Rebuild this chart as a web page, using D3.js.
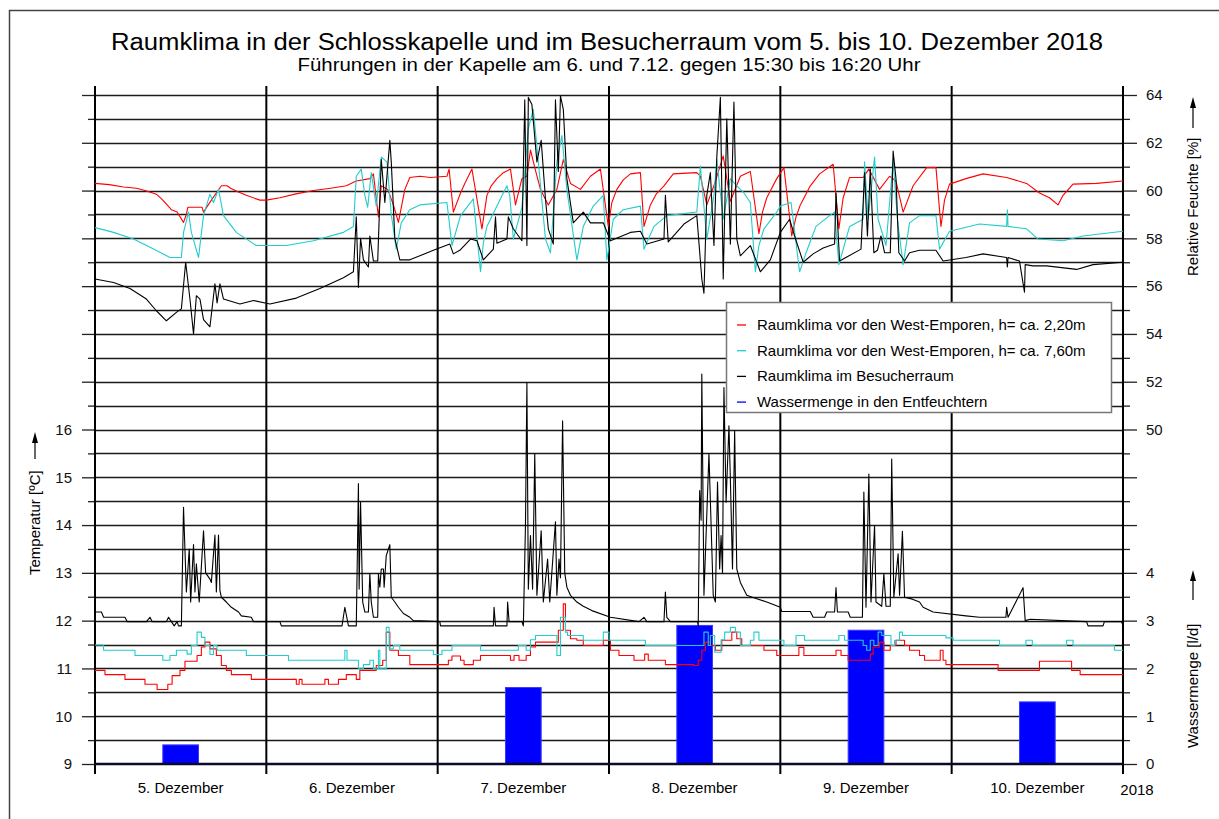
<!DOCTYPE html>
<html>
<head>
<meta charset="utf-8">
<script src="https://cdn.jsdelivr.net/npm/d3@7"></script>
<style>
  body { margin: 0; background: #fff; }
  svg { display: block; font-family: "Liberation Sans", Arial, sans-serif; }
</style>
</head>
<body>
<div id="chart"></div>
<script>
// Day labels and water amount (l/d) per day
const dayLabels = ['5. Dezember', '6. Dezember', '7. Dezember', '8. Dezember', '9. Dezember', '10. Dezember'];
const waterValues = [0.4, 0, 1.6, 2.9, 2.8, 1.3];

// Series: [hours since 5.12. 00:00, value]
// Relative humidity (%) - West-Emporen 2,20m
const rhRed = [[0,60.3],[2,60.25],[4,60.15],[5.8,60.1],[7,60.0],[8.6,59.85],[9.5,59.6],[10.7,59.2],[11.5,59.1],[12.4,58.67],[12.8,59.0],[13,59.3],[15,59.3],[15.2,59.1],[16.3,59.6],[17.7,60.2],[18.5,60.2],[19,60.1],[20,59.95],[21.2,59.8],[23.1,59.6],[24,59.6],[25.9,59.7],[28,59.85],[30.6,60.0],[33,60.1],[35.2,60.2],[36.6,60.4],[38.5,60.5],[39,60.7],[39.7,58.9],[40.1,60.2],[41,60.05],[41.8,59.4],[42.5,58.67],[43.4,60.05],[44.1,60.55],[45.5,60.6],[47,60.55],[49.3,60.6],[49.6,60.9],[50.2,59.1],[51.2,59.9],[51.8,60.3],[52.3,60.6],[52.8,60.9],[54.2,58.4],[54.9,59.8],[55.5,60.2],[56.3,60.5],[57.2,60.75],[58.2,60.9],[58.9,59.4],[59.8,60.5],[60.5,60.6],[61,61.7],[61.6,60.96],[62.4,60.05],[63.5,59.4],[64.7,60.05],[65.6,61.3],[66.6,60.3],[68,60.05],[69.4,60.6],[70.8,60.9],[71.9,58.5],[72.4,59.5],[73.1,60.05],[74,60.45],[75,60.7],[76.4,60.75],[76.9,58.5],[77.8,59.4],[78.6,59.85],[79.7,60.2],[81,60.7],[84.3,60.75],[84.8,60.6],[85.7,59.4],[86.7,60.2],[88,61.45],[89,59.55],[90.4,60.6],[91.8,60.8],[93,58.2],[93.5,59.1],[94.1,59.7],[95.5,60.5],[96.5,60.96],[97.6,58.1],[98.2,58.9],[98.8,59.4],[100.2,60.2],[101.5,60.7],[103.4,61.1],[104.2,58.4],[104.8,59.7],[105.7,60.55],[107.6,60.55],[108.4,60.9],[109.9,60.05],[111.3,60.6],[112.2,60.4],[113.2,59.1],[114.6,60.2],[116.5,60.96],[117.8,60.96],[118.5,58.5],[119,59.6],[119.7,60.27],[122,60.5],[124.4,60.7],[127.7,60.55],[130.5,60.3],[132.3,59.9],[133.7,59.7],[134.9,59.4],[135.6,59.8],[137,60.27],[140.3,60.3],[144,60.4]];

// Relative humidity (%) - West-Emporen 7,60m
const rhCyan = [[0,58.45],[2.6,58.25],[5.4,57.97],[8.2,57.55],[10.5,57.2],[12.1,57.2],[12.4,58.25],[13.1,59.1],[13.5,58.25],[14.5,57.2],[15.2,58.95],[16.1,59.85],[16.6,59.5],[17.3,60.05],[18,58.95],[19.8,58.25],[22.6,57.7],[26.8,57.7],[30.6,57.9],[34.8,58.25],[36.2,58.5],[36.6,60.6],[37.3,60.9],[37.8,59.8],[38.2,59.3],[38.7,60.75],[39.4,59.35],[40.1,61.4],[40.9,61.2],[41.5,59.0],[42.2,57.55],[42.9,58.65],[44.1,59.2],[45.5,59.4],[49.3,59.5],[50.0,57.7],[51.2,58.95],[53,59.65],[54,56.6],[54.4,57.8],[54.9,58.5],[56.3,59.35],[57.7,60.2],[58.1,59.8],[58.6,57.97],[59.8,59.3],[60.7,62.6],[61.4,63.4],[62.1,61.2],[63.1,57.97],[63.8,57.4],[64.7,61.2],[65.4,62.3],[66.1,60.05],[67.5,57.1],[68.4,58.5],[69.8,59.35],[71.2,59.8],[71.7,57.1],[72.6,58.8],[74,59.2],[76.4,59.35],[76.9,57.55],[78.3,58.5],[80.1,58.95],[84.3,59.1],[84.8,61.03],[85.7,57.97],[86.7,59.8],[87.1,61.3],[88,58.8],[89,60.5],[89.9,60.2],[90.9,59.9],[91.8,59.5],[92.5,56.6],[93,57.7],[93.7,58.4],[95.5,59.1],[96,59.35],[97.5,59.5],[98.7,56.6],[99.6,57.4],[101,58.5],[102.9,58.95],[103.6,59.1],[104.2,56.9],[105.7,58.5],[107.6,58.8],[107.8,61.2],[108.3,58.8],[109.2,61.4],[109.7,58.8],[110.8,57.7],[111.8,61.25],[112.4,58.8],[113.2,56.9],[114.1,58.65],[115.5,58.95],[117.8,58.95],[118.3,57.55],[119.7,58.3],[123.9,58.6],[127.7,58.5],[127.8,59.2],[127.9,58.5],[130.5,58.4],[132.1,57.97],[135.6,57.9],[138.4,58.1],[144,58.3]];

// Relative humidity (%) - Besucherraum
const rhBlack = [[0,56.3],[2.6,56.15],[4.9,55.9],[7.2,55.46],[8.6,54.97],[10,54.55],[11.4,54.9],[12.1,55.05],[12.7,57.0],[13.3,55.46],[13.8,54.0],[14.2,55.6],[14.7,55.46],[15.2,54.6],[16.1,54.3],[16.8,56.1],[17.1,55.3],[17.5,56.1],[18,55.46],[20.3,55.25],[22.2,55.4],[24.5,55.25],[28.2,55.5],[31.5,55.9],[34.8,56.35],[36.2,56.6],[36.6,58.9],[36.9,55.95],[37.2,58.0],[37.6,57.1],[38.3,56.8],[38.5,58.1],[39,57.05],[39.6,57.05],[40.1,61.3],[40.6,59.5],[41.3,62.1],[41.5,61.2],[42,58.0],[42.7,57.1],[44.1,57.1],[47.4,57.5],[49.7,57.76],[50.2,57.35],[51.1,57.5],[52.6,57.97],[53.5,57.9],[54.4,57.1],[55.8,57.55],[56.1,58.9],[56.3,57.8],[57.7,57.97],[57.9,58.9],[58.6,58.4],[59.8,57.9],[60.2,63.8],[60.5,57.7],[60.7,63.9],[61.2,63.6],[61.9,61.2],[62.5,62.1],[63.1,59.65],[63.5,58.4],[64.2,57.76],[64.5,63.8],[64.9,60.8],[65.2,63.96],[65.6,63.4],[66.1,60.5],[67,58.65],[68.4,59.1],[69.4,58.65],[71.2,58.65],[72.2,57.9],[75,58.25],[76.4,58.3],[77.3,57.76],[79.7,57.97],[79.9,59.8],[80.3,57.85],[82.5,58.6],[84.3,58.95],[85,56.3],[85.3,55.7],[85.7,59.8],[86.2,60.75],[86.7,57.7],[87.1,61.4],[87.6,63.9],[88,56.3],[88.5,63.0],[89,57.76],[89.5,63.7],[89.9,57.97],[90.4,57.27],[91.8,57.7],[93.2,56.6],[94.6,57.1],[96,58.25],[97.3,58.8],[98,58.1],[99.2,57.0],[100.6,57.35],[102,57.6],[103.6,57.76],[103.8,59.9],[104.3,57.05],[107.3,57.55],[107.8,60.75],[108.2,58.1],[108.6,60.9],[109.1,57.4],[109.6,57.5],[110.1,58.1],[110.6,57.4],[111.4,57.4],[111.8,61.65],[112.2,60.5],[112.6,57.4],[113.4,57.05],[114.1,57.4],[115.5,57.5],[117.8,57.5],[118.8,57.05],[122,57.2],[124.4,57.35],[127.7,57.2],[127.8,56.8],[127.9,57.2],[129.5,57.05],[130.2,55.75],[130.3,56.9],[131.4,56.85],[133.3,56.85],[137.5,56.7],[139.8,56.9],[144,57.0]];

// Temperature (°C) - West-Emporen 2,20m
const tRed = [[0,10.96],[1.4,10.87],[4.2,10.77],[7,10.67],[8.7,10.56],[10.2,10.67],[10.8,10.85],[11.9,10.96],[12.6,11.15],[14.3,11.27],[14.9,11.45],[15.4,11.55],[16.1,11.41],[17.0,11.27],[17.7,11.06],[18.4,10.96],[19.1,10.87],[21.9,10.77],[28.2,10.67],[28.6,10.77],[29,10.67],[32.2,10.77],[32.7,10.67],[34.1,10.77],[35.2,10.87],[36.6,10.77],[37.1,10.96],[39.4,11.06],[40.3,11.17],[40.8,11.76],[41.3,11.38],[42.5,11.27],[44.1,11.08],[49.5,11.17],[50.0,11.26],[51.2,11.17],[51.7,11.08],[53.0,11.17],[54.0,11.27],[58.2,11.17],[58.7,11.27],[59.4,11.17],[60.4,11.27],[61.0,11.45],[61.7,11.55],[64.3,11.55],[64.9,11.8],[65.6,12.35],[65.9,11.8],[66.6,11.62],[67.5,11.59],[68.4,11.48],[71.2,11.59],[72.2,11.38],[73.4,11.27],[75.5,11.17],[77.0,11.3],[77.5,11.17],[79.9,11.08],[83.9,11.06],[84.5,11.17],[85,11.38],[85.5,11.55],[86.2,11.48],[86.9,11.38],[87.8,11.59],[89.2,11.76],[89.9,11.62],[90.6,11.48],[93.7,11.38],[95.5,11.27],[98.6,11.44],[99.3,11.27],[103.8,11.38],[104.5,11.27],[105.5,11.17],[108.6,11.3],[109,11.45],[109.9,11.55],[110.5,11.38],[111.4,11.48],[112.2,11.59],[113.4,11.48],[114.1,11.38],[115.5,11.27],[116.2,11.17],[118.4,11.38],[118.8,11.17],[119.2,11.08],[126.5,10.96],[132.3,11.15],[136.8,10.96],[138,10.87],[144,10.87]];

// Temperature (°C) - West-Emporen 7,60m
const tCyan = [[0,11.49],[1.2,11.38],[5.6,11.27],[9.5,11.17],[10.5,11.27],[11.4,11.38],[12.9,11.3],[13.5,11.48],[14.3,11.76],[14.9,11.65],[15.4,11.48],[16.1,11.29],[16.6,11.48],[17.1,11.38],[21.2,11.27],[27.1,11.17],[35,11.38],[35.3,11.17],[36.9,10.99],[37.6,11.08],[38.5,11.17],[39,10.99],[39.7,11.38],[39.9,10.99],[40.8,11.86],[41.2,11.41],[41.8,11.48],[42.7,11.38],[47.4,11.29],[48.6,11.38],[50,11.48],[54,11.38],[59.3,11.48],[60.4,11.38],[61.0,11.6],[61.7,11.69],[63.8,11.69],[64.7,11.27],[65.2,12.07],[65.9,11.76],[66.2,11.69],[68.4,11.59],[71.2,11.76],[72,11.59],[77.1,11.48],[85.3,11.76],[85.9,11.48],[86.2,11.69],[86.8,11.34],[87.7,11.6],[88.2,11.76],[89,11.86],[89.7,11.76],[90.4,11.48],[91.8,11.59],[92.3,11.76],[93,11.59],[96.5,11.48],[98.2,11.69],[99.4,11.59],[104.2,11.69],[105,11.59],[107.6,11.48],[108.1,11.38],[108.6,11.59],[109.1,11.48],[109.7,11.76],[110.2,11.69],[111.5,11.48],[112.0,11.59],[112.7,11.76],[113.1,11.69],[119.2,11.64],[120.2,11.59],[126.7,11.48],[130.4,11.59],[131.3,11.48],[136.1,11.59],[137,11.48],[142.8,11.38],[144,11.38]];

// Temperature (°C) - Besucherraum
const tBlack = [[0,12.18],[0.9,12.18],[1.2,12.07],[4.2,12.07],[4.5,11.98],[7.2,11.98],[7.7,12.07],[8,11.98],[10,11.98],[10.3,12.07],[10.7,11.98],[11.1,11.89],[11.5,11.98],[11.7,11.89],[12.1,11.89],[12.4,14.37],[12.8,12.6],[13.2,13.5],[13.4,12.39],[13.8,13.59],[14.0,12.6],[14.2,13.19],[14.6,12.39],[15.2,13.88],[15.5,13.0],[16.1,12.87],[16.3,12.8],[16.8,13.79],[17.0,12.6],[17.3,13.79],[17.5,12.63],[17.7,12.49],[18.4,12.39],[19.1,12.28],[20.1,12.18],[20.5,12.1],[21.9,12.07],[22.2,11.98],[25.9,11.98],[26.1,11.89],[34.6,11.89],[35.0,12.28],[35.5,11.89],[36.6,11.89],[36.9,14.87],[37.0,12.66],[37.2,14.48],[37.5,12.39],[37.8,12.18],[38.3,12.18],[38.5,12.98],[38.7,12.39],[39,12.07],[39.6,12.07],[39.7,12.98],[39.9,12.7],[40.1,13.08],[40.4,13.08],[40.5,12.7],[40.8,13.36],[41.1,13.5],[41.3,13.59],[41.5,12.49],[42.0,12.39],[42.5,12.28],[43.2,12.15],[44.1,12.07],[44.6,12.0],[48.3,11.98],[48.4,11.89],[55.8,11.89],[55.9,12.28],[56.1,11.89],[57.7,11.89],[57.8,12.39],[58,11.98],[59.8,11.98],[60.0,11.89],[60.3,13.99],[60.5,16.99],[60.7,12.66],[61.0,13.78],[61.3,12.66],[61.6,15.49],[61.9,12.53],[62.5,13.88],[62.8,12.39],[63.4,13.29],[63.7,12.39],[64.5,14.07],[64.7,12.53],[65.0,13.29],[65.2,12.9],[65.5,16.18],[65.8,13.0],[66.1,12.7],[66.6,12.53],[67.5,12.39],[68.4,12.3],[69.6,12.21],[72.2,12.07],[76.2,11.98],[76.9,12.07],[77.3,11.98],[79.7,11.98],[79.9,12.6],[80.1,12.07],[80.6,11.98],[84.4,11.98],[84.5,11.89],[84.7,14.72],[84.9,14.1],[85.0,17.16],[85.3,12.53],[86.0,15.49],[86.6,12.53],[86.9,12.39],[87.2,14.9],[87.5,13.08],[87.7,13.78],[87.9,13.0],[88.1,16.88],[88.4,14.48],[88.8,16.08],[89.0,14.97],[89.3,13.08],[89.6,15.98],[89.9,13.08],[90.4,12.8],[91.3,12.53],[92.7,12.46],[94.1,12.39],[96,12.28],[96.2,12.19],[100.2,12.19],[100.6,12.07],[102.2,12.07],[102.5,12.18],[103.6,12.18],[103.8,12.69],[104.0,12.18],[105.5,12.18],[105.8,12.07],[107.5,12.07],[107.7,14.69],[108.0,12.28],[108.4,15.07],[108.7,12.39],[109.2,13.99],[109.4,12.39],[110.2,12.3],[110.5,12.98],[110.8,12.3],[111.4,12.3],[111.6,15.38],[111.9,12.49],[112.5,13.4],[112.7,12.53],[113.1,13.87],[113.4,12.49],[114.5,12.45],[115.5,12.39],[116,12.28],[117.4,12.18],[122,12.1],[123.9,12.07],[127.6,12.07],[127.7,12.28],[127.9,12.07],[130.0,12.69],[130.3,12.0],[131,12.03],[138.9,11.98],[139.1,11.89],[141.2,11.89],[141.4,11.98],[143.8,11.98],[144,11.89]];

// Tick labels
const tempTicks = [9, 10, 11, 12, 13, 14, 15, 16];
const humidityTicks = [50, 52, 54, 56, 58, 60, 62, 64];
const waterTicks = [0, 1, 2, 3, 4];

const legendItems = [
    { label: 'Raumklima vor den West-Emporen, h= ca. 2,20m', color: '#ff0000' },
    { label: 'Raumklima vor den West-Emporen, h= ca. 7,60m', color: '#22cccc' },
    { label: 'Raumklima im Besucherraum', color: '#000000' },
    { label: 'Wassermenge in den Entfeuchtern', color: '#0000ff' }
];

function renderChart() {
    const W = 1219, H = 819;
    const left = 95, right = 1123, top = 95, bottom = 764;

    const svg = d3.select('#chart').append('svg')
        .attr('width', W)
        .attr('height', H);

    // outer frame (runs past the right and bottom edge)
    svg.append('rect')
        .attr('x', 9.5).attr('y', 10.5)
        .attr('width', 1400).attr('height', 1000)
        .attr('fill', 'none').attr('stroke', '#444').attr('stroke-width', 1.5);

    // Scales - all three value axes share the same pixel grid
    const x = d3.scaleLinear().domain([0, 144]).range([left, right]);
    const yT = d3.scaleLinear().domain([9, 23]).range([bottom, top]);
    const yH = d3.scaleLinear().domain([36, 64]).range([bottom, top]);
    const yW = d3.scaleLinear().domain([0, 14]).range([bottom, top]);

    // Title
    svg.append('text')
        .attr('x', 607).attr('y', 50)
        .attr('text-anchor', 'middle')
        .attr('font-size', 23)
        .attr('textLength', 992).attr('lengthAdjust', 'spacingAndGlyphs')
        .text('Raumklima in der Schlosskapelle und im Besucherraum vom 5. bis 10. Dezember 2018');
    svg.append('text')
        .attr('x', 609).attr('y', 71)
        .attr('text-anchor', 'middle')
        .attr('font-size', 18)
        .attr('textLength', 623).attr('lengthAdjust', 'spacingAndGlyphs')
        .text('Führungen in der Kapelle am 6. und 7.12. gegen 15:30 bis 16:20 Uhr');

    // Horizontal grid lines every 0.5 °C
    svg.append('g')
        .selectAll('line')
        .data(d3.range(9.5, 23.01, 0.5))
        .enter()
        .append('line')
        .attr('x1', left).attr('x2', right)
        .attr('y1', d => Math.round(yT(d)) + 0.5)
        .attr('y2', d => Math.round(yT(d)) + 0.5)
        .attr('stroke', '#1a1a1a')
        .attr('stroke-width', 1.3);

    // Left axis: major / minor ticks
    svg.append('g')
        .attr('transform', `translate(${left},0)`)
        .call(d3.axisLeft(yT)
            .tickValues(d3.range(9, 23.01, 1))
            .tickSize(13)
            .tickPadding(10)
            .tickFormat(d => tempTicks.includes(d) ? d : ''));
    svg.append('g')
        .attr('transform', `translate(${left},0)`)
        .call(d3.axisLeft(yT)
            .tickValues(d3.range(9.5, 23, 1))
            .tickSize(7)
            .tickFormat(''));

    // Right axis: humidity and water labels on the same ticks
    svg.append('g')
        .attr('transform', `translate(${right},0)`)
        .call(d3.axisRight(yH)
            .tickValues(d3.range(36, 64.01, 2))
            .tickSize(14)
            .tickPadding(9)
            .tickFormat(d => {
                if (humidityTicks.includes(d)) return d;
                const w = Math.round(yW.invert(yH(d)) * 10) / 10;
                return waterTicks.includes(w) ? w : '';
            }));
    svg.append('g')
        .attr('transform', `translate(${right},0)`)
        .call(d3.axisRight(yH)
            .tickValues(d3.range(37, 64, 2))
            .tickSize(7)
            .tickFormat(''));

    svg.selectAll('.domain').remove();
    svg.selectAll('.tick line').attr('stroke', '#222').attr('stroke-width', 1.3);
    svg.selectAll('.tick text')
        .attr('font-size', 15)
        .attr('font-family', '"Liberation Sans", Arial, sans-serif')
        .attr('fill', '#111');

    // Water bars (centered on noon of each day)
    svg.append('g')
        .selectAll('rect')
        .data(waterValues)
        .enter()
        .append('rect')
        .attr('x', (d, i) => x(i * 24 + 9.5))
        .attr('y', d => yW(d))
        .attr('width', x(5) - x(0))
        .attr('height', d => yW(0) - yW(d))
        .attr('fill', '#0000ff')
        .attr('stroke', '#3b3bff')
        .attr('stroke-width', 1)
        .style('display', d => d > 0 ? null : 'none');

    // Vertical day lines (incl. left/right axis lines)
    svg.append('g')
        .selectAll('line')
        .data(d3.range(0, 144.1, 24))
        .enter()
        .append('line')
        .attr('x1', d => x(d)).attr('x2', d => x(d))
        .attr('y1', 86).attr('y2', 774)
        .attr('stroke', '#000')
        .attr('stroke-width', 2);

    // Bottom base line
    svg.append('line')
        .attr('x1', left).attr('x2', right)
        .attr('y1', yT(9)).attr('y2', yT(9))
        .attr('stroke', '#0a0a2a')
        .attr('stroke-width', 2.5);

    // Series lines
    const lineH = d3.line().x(d => x(d[0])).y(d => yH(d[1]));
    const lineT = d3.line().x(d => x(d[0])).y(d => yT(d[1]));
    const lineTStep = d3.line().x(d => x(d[0])).y(d => yT(d[1])).curve(d3.curveStepAfter);

    const series = [
        { data: tRed, gen: lineTStep, color: '#ff0000' },
        { data: tCyan, gen: lineTStep, color: '#22cccc' },
        { data: tBlack, gen: lineT, color: '#000000' },
        { data: rhRed, gen: lineH, color: '#ff0000' },
        { data: rhCyan, gen: lineH, color: '#22cccc' },
        { data: rhBlack, gen: lineH, color: '#000000' }
    ];
    svg.append('g')
        .selectAll('path')
        .data(series)
        .enter()
        .append('path')
        .attr('d', d => d.gen(d.data))
        .attr('fill', 'none')
        .attr('stroke', d => d.color)
        .attr('stroke-width', 1.1)
        .attr('stroke-linejoin', 'round');

    // Day labels
    svg.append('g')
        .selectAll('text')
        .data(dayLabels)
        .enter()
        .append('text')
        .attr('x', (d, i) => x(i * 24 + 12))
        .attr('y', 793)
        .attr('text-anchor', 'middle')
        .attr('font-size', 15)
        .text(d => d);
    svg.append('text')
        .attr('x', 1137).attr('y', 795)
        .attr('text-anchor', 'middle')
        .attr('font-size', 15)
        .text('2018');

    // Axis titles with arrows
    function axisTitle(cx, yStart, label, arrowFrom, arrowTo) {
        svg.append('text')
            .attr('transform', `translate(${cx + 5},${yStart}) rotate(-90)`)
            .attr('font-size', 15)
            .text(label);
        svg.append('line')
            .attr('x1', cx).attr('x2', cx)
            .attr('y1', arrowFrom).attr('y2', arrowTo + 8)
            .attr('stroke', '#000').attr('stroke-width', 1.2);
        svg.append('path')
            .attr('d', `M${cx},${arrowTo} L${cx - 3},${arrowTo + 11} L${cx + 3},${arrowTo + 11} Z`)
            .attr('fill', '#000');
    }
    axisTitle(35, 575, 'Temperatur [ºC]', 459, 432);
    axisTitle(1193, 276, 'Relative Feuchte [%]', 128, 97);
    axisTitle(1193, 748, 'Wassermenge [l/d]', 600, 570);

    // Legend
    const legend = svg.append('g');
    legend.append('rect')
        .attr('x', 726.5).attr('y', 302.5)
        .attr('width', 385).attr('height', 110)
        .attr('fill', '#fff')
        .attr('stroke', '#777')
        .attr('stroke-width', 1.5);
    legendItems.forEach((item, i) => {
        const cy = 325 + i * 25.7;
        legend.append('line')
            .attr('x1', 737).attr('x2', 746)
            .attr('y1', cy).attr('y2', cy)
            .attr('stroke', item.color)
            .attr('stroke-width', 1.3);
        legend.append('text')
            .attr('x', 757).attr('y', cy + 5)
            .attr('font-size', 15)
            .text(item.label);
    });
}

renderChart();
</script>
</body>
</html>
